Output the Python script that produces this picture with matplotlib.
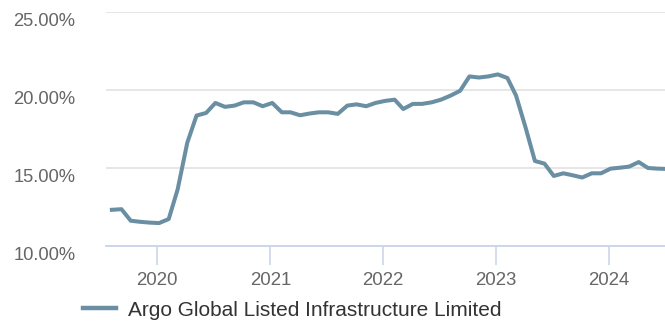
import matplotlib
matplotlib.use("Agg")
import matplotlib.pyplot as plt
import matplotlib.dates as mdates
import matplotlib.transforms as mtransforms
import numpy as np
import pandas as pd

# ── DATA ────────────────────────────────────────────────────────────────
series_name = "Argo Global Listed Infrastructure Limited"
start_date = "2019-08-07"
# rolling volatility, monthly observations (%)
volatility = [
    12.32, 12.36, 11.62, 11.55, 11.50, 11.47, 11.73, 13.64, 16.62, 18.36,
    18.53, 19.17, 18.92, 19.00, 19.21, 19.21, 18.96, 19.17, 18.57, 18.57,
    18.38, 18.49, 18.57, 18.57, 18.47, 19.00, 19.08, 18.96, 19.17, 19.30,
    19.38, 18.78, 19.11, 19.11, 19.21, 19.38, 19.64, 19.95, 20.87, 20.80,
    20.87, 21.00, 20.77, 19.64, 17.58, 15.45, 15.28, 14.49, 14.66, 14.53,
    14.39, 14.66, 14.66, 14.96, 15.02, 15.09, 15.38, 15.00, 14.96, 14.94,
]
y_ticks = [10, 15, 20, 25]

dates = pd.date_range(start_date, periods=len(volatility),
                      freq=pd.DateOffset(months=1))

# ── STYLE ───────────────────────────────────────────────────────────────
line_clr = "#6a8fa3"
grid_clr = "#e6e6e6"
axis_clr = "#ccd6eb"
plt.rcParams["font.family"] = ["Liberation Sans", "DejaVu Sans"]

dpi = 100
W, H = 665, 324
fig = plt.figure(figsize=(W / dpi, H / dpi), dpi=dpi, facecolor="white")

# plot area in pixels: left 106, top 12, bottom 246
ax = fig.add_axes([106 / W, 1 - 246 / H, 1 - 106 / W, (246 - 12) / H])

ax.plot(dates, volatility, color=line_clr, linewidth=2.9,
        solid_joinstyle="round", zorder=3, label=series_name)

ax.set_ylim(10, 25)
ax.set_yticks(y_ticks)
ax.set_yticklabels([f"{v:.2f}%" for v in y_ticks])
ax.set_xlim(pd.Timestamp("2019-07-19"), pd.Timestamp("2024-07-01"))
ax.xaxis.set_major_locator(mdates.YearLocator())
ax.xaxis.set_major_formatter(mdates.DateFormatter("%Y"))

ax.grid(axis="y", color=grid_clr, linewidth=1.4, zorder=0)
ax.set_axisbelow(True)
for side in ["left", "right", "top"]:
    ax.spines[side].set_visible(False)
ax.spines["bottom"].set_color(axis_clr)
ax.spines["bottom"].set_linewidth(1.4)

ax.tick_params(axis="y", length=0, pad=22, labelsize=13.2, labelcolor="#666666")
ax.tick_params(axis="x", length=13.5, width=1.2, color=axis_clr, pad=5.5,
               labelsize=13.4, labelcolor="#666666")

# y labels sit a little below their grid lines
shift = mtransforms.ScaledTranslation(0, -7 / dpi, fig.dpi_scale_trans)
for lbl in ax.get_yticklabels():
    lbl.set_transform(lbl.get_transform() + shift)

leg = fig.legend(loc="center left", bbox_to_anchor=(83 / W, 1 - 310 / H),
                 frameon=False, fontsize=15, handlelength=1.6,
                 handletextpad=0.58, borderpad=0, borderaxespad=0)
for txt in leg.get_texts():
    txt.set_color("#333333")
for h in leg.get_lines():
    h.set_linewidth(3.2)

fig.savefig("out.png", dpi=dpi, facecolor="white")
